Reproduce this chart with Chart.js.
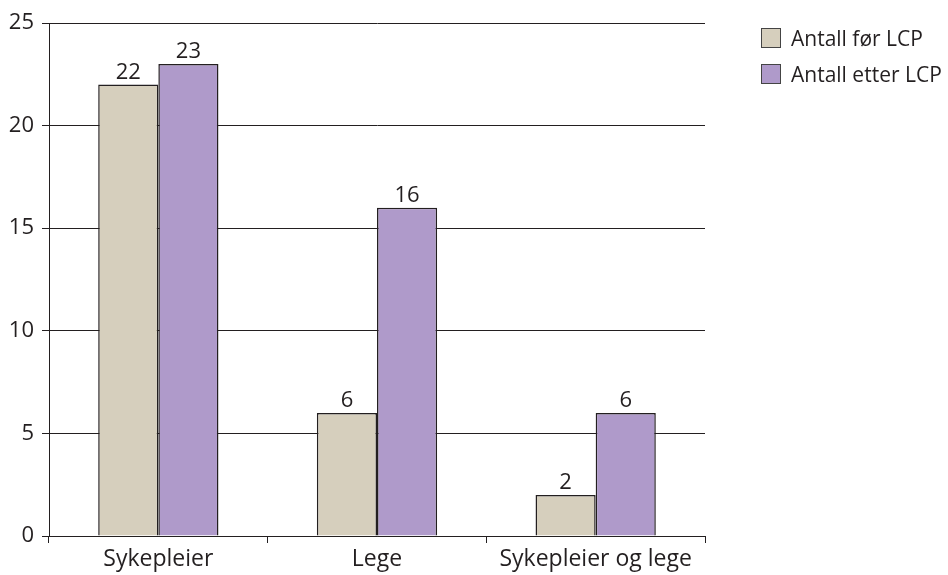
<!DOCTYPE html>
<html>
<head>
<meta charset="utf-8">
<script src="https://cdn.jsdelivr.net/npm/chart.js"></script>
<style>
  html, body { margin: 0; padding: 0; background: #fff; }
  #wrap { position: relative; width: 948px; height: 575px; }
  #legend { position: absolute; left: 761px; top: 27px; font-family: "Open Sans", sans-serif; font-size: 21px; color: #231f20; }
  #legend .item { display: flex; align-items: center; height: 21px; margin-bottom: 15px; white-space: nowrap; }
  #legend .box { width: 20px; height: 20px; border: 1px solid #444; margin-right: 10px; box-sizing: border-box; }
</style>
</head>
<body>
<div id="wrap">
  <canvas id="chart" width="948" height="575"></canvas>
  <div id="legend"></div>
</div>
<script>
// kategorier og verdier
const categories = ['Sykepleier', 'Lege', 'Sykepleier og lege'];
const seriesNames = ['Antall før LCP', 'Antall etter LCP'];
const beforeValues = [22, 6, 2];
const afterValues = [23, 16, 6];
const yTicks = [0, 5, 10, 15, 20, 25];
const colors = ['#d6cfbd', '#af9aca'];

const FONT = '"Open Sans", sans-serif';
const INK = '#231f20';

// tall over søylene
const valueLabels = {
    id: 'valueLabels',
    afterDatasetsDraw(chart) {
        const ctx = chart.ctx;
        ctx.save();
        ctx.font = '22px ' + FONT;
        ctx.fillStyle = INK;
        ctx.textAlign = 'center';
        ctx.textBaseline = 'alphabetic';
        chart.data.datasets.forEach((ds, i) => {
            chart.getDatasetMeta(i).data.forEach((bar, j) => {
                ctx.fillText(ds.data[j], bar.x, bar.y - 6);
            });
        });
        ctx.restore();
    }
};

new Chart(document.getElementById('chart'), {
    type: 'bar',
    data: {
        labels: categories,
        datasets: [
            { label: seriesNames[0], data: beforeValues, backgroundColor: colors[0], borderColor: INK, borderWidth: 1.5 },
            { label: seriesNames[1], data: afterValues, backgroundColor: colors[1], borderColor: INK, borderWidth: 1.5 }
        ]
    },
    options: {
        responsive: false,
        animation: false,
        categoryPercentage: 0.55,
        barPercentage: 1,
        layout: { padding: { top: 23, right: 243, left: 0, bottom: 0 } },
        plugins: { legend: { display: false }, tooltip: { enabled: false } },
        scales: {
            x: {
                afterFit: s => { s.height = 39; },
                border: { display: true, color: INK, width: 1 },
                grid: { offset: true, drawOnChartArea: false, drawTicks: true, tickLength: 7, color: INK },
                ticks: { color: INK, font: { family: FONT, size: 23 }, padding: 3 }
            },
            y: {
                min: 0, max: 25,
                afterFit: s => { s.width = 49; },
                afterBuildTicks: s => { s.ticks = yTicks.map(v => ({ value: v })); },
                border: { display: true, color: INK, width: 1 },
                grid: { color: INK, lineWidth: 1, tickLength: 7 },
                ticks: { color: INK, font: { family: FONT, size: 22 }, padding: 8 }
            }
        }
    },
    plugins: [valueLabels]
});

const legend = document.getElementById('legend');
seriesNames.forEach((name, i) => {
    const item = document.createElement('div');
    item.className = 'item';
    item.innerHTML = '<span class="box" style="background:' + colors[i] + '"></span><span>' + name + '</span>';
    legend.appendChild(item);
});
</script>
</body>
</html>
